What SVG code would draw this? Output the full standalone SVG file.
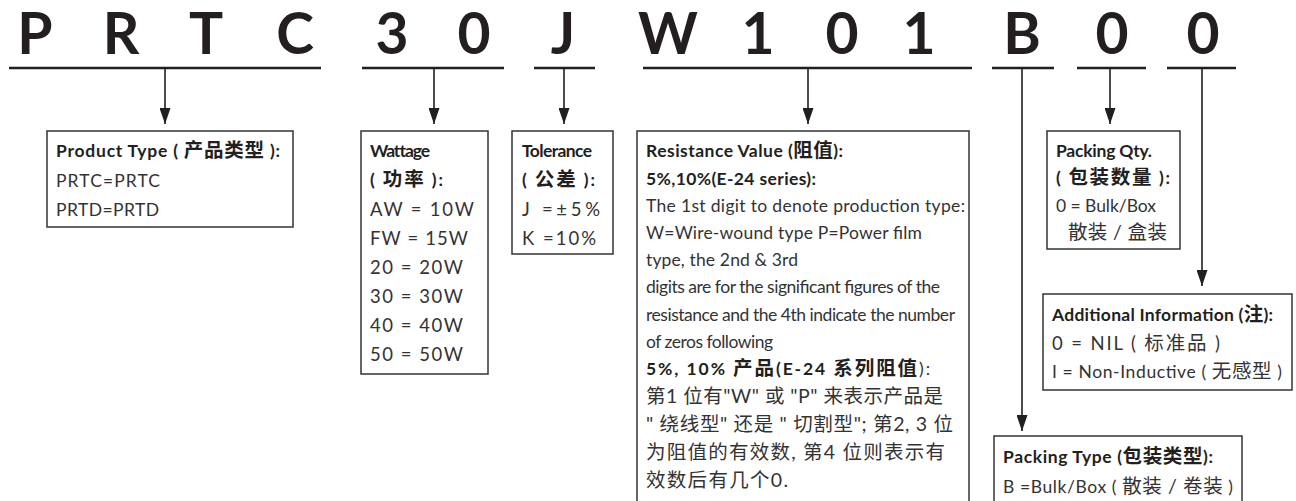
<svg xmlns="http://www.w3.org/2000/svg" width="1296" height="501" viewBox="0 0 1296 501">
<style>
.code{font-family:Lato,"Noto Sans CJK SC",sans-serif;font-weight:700;font-size:57px;fill:#231f20;text-anchor:middle}
.t{font-family:Lato,"Noto Sans CJK SC",sans-serif;font-size:17.5px;fill:#333}
.w{font-size:18.5px}
.b{font-weight:700;fill:#231f20}
.c{font-size:19.5px}
.box{fill:#fff;stroke:#333;stroke-width:1.5}
.ul{stroke:#231f20;stroke-width:2.5;fill:none}
.ln{stroke:#231f20;stroke-width:1.6;fill:none}
</style>
<defs>
<marker id="ah" viewBox="0 -5.5 16 11" refX="16" refY="0" markerWidth="16" markerHeight="11" markerUnits="userSpaceOnUse" orient="auto">
<path d="M0,-5.5 L16,0 L0,5.5 z" fill="#231f20"/>
</marker>
</defs>
<rect width="1296" height="501" fill="#fff"/>
<g id="code">
<text class="code" x="35" y="54">P</text>
<text class="code" x="121" y="54">R</text>
<text class="code" x="206" y="54">T</text>
<text class="code" x="295" y="54">C</text>
<text class="code" x="392" y="54">3</text>
<text class="code" x="474" y="54">0</text>
<text class="code" x="563" y="54">J</text>
<text class="code" x="668" y="54">W</text>
<text class="code" x="758" y="54">1</text>
<text class="code" x="842" y="54">0</text>
<text class="code" x="919" y="54">1</text>
<text class="code" x="1022" y="54">B</text>
<text class="code" x="1112" y="54">0</text>
<text class="code" x="1203" y="54">0</text>
</g>
<g id="connectors">
<path class="ul" d="M9,68H321 M362,68H504 M534,68H595 M643,68H972 M992,68H1054 M1077,68H1146 M1167,68H1236"/>
<path class="ln" d="M165,68V124" marker-end="url(#ah)"/>
<path class="ln" d="M434,68V124" marker-end="url(#ah)"/>
<path class="ln" d="M564,68V124" marker-end="url(#ah)"/>
<path class="ln" d="M808,68V124" marker-end="url(#ah)"/>
<path class="ln" d="M1110,68V124" marker-end="url(#ah)"/>
<path class="ln" d="M1022,68V431" marker-end="url(#ah)"/>
<path class="ln" d="M1202,68V286" marker-end="url(#ah)"/>
</g>
<g id="product">
<rect class="box" x="47" y="131" width="246" height="96"/>
<text class="t b" x="56" y="157" textLength="224" lengthAdjust="spacing">Product Type ( <tspan class="c">产品类型</tspan> ):</text>
<text class="t" x="56" y="187" textLength="104" lengthAdjust="spacing">PRTC=PRTC</text>
<text class="t" x="56" y="216" textLength="103" lengthAdjust="spacing">PRTD=PRTD</text>
</g>
<g id="wattage">
<rect class="box" x="361" y="131" width="127" height="243"/>
<text class="t b" x="370" y="157" textLength="60" lengthAdjust="spacing">Wattage</text>
<text class="t b" x="370" y="186" textLength="73" lengthAdjust="spacing">( <tspan class="c">功率</tspan> ):</text>
<text class="t w" x="370" y="216" textLength="104" lengthAdjust="spacing">AW = 10W</text>
<text class="t w" x="370" y="245" textLength="98" lengthAdjust="spacing">FW = 15W</text>
<text class="t w" x="370" y="274" textLength="93" lengthAdjust="spacing">20 = 20W</text>
<text class="t w" x="370" y="303" textLength="93" lengthAdjust="spacing">30 = 30W</text>
<text class="t w" x="370" y="332" textLength="93" lengthAdjust="spacing">40 = 40W</text>
<text class="t w" x="370" y="361" textLength="93" lengthAdjust="spacing">50 = 50W</text>
</g>
<g id="tolerance">
<rect class="box" x="512" y="131" width="101" height="123"/>
<text class="t b" x="522" y="157" textLength="70" lengthAdjust="spacing">Tolerance</text>
<text class="t b" x="522" y="186" textLength="73" lengthAdjust="spacing">( <tspan class="c">公差</tspan> ):</text>
<text class="t w" x="522" y="216" textLength="78" lengthAdjust="spacing">J =±5%</text>
<text class="t w" x="522" y="245" textLength="74" lengthAdjust="spacing">K =10%</text>
</g>
<g id="resistance">
<rect class="box" x="637" y="131" width="332" height="375"/>
<text class="t b" x="646" y="157" textLength="197" lengthAdjust="spacing">Resistance Value (<tspan class="c">阻值</tspan>):</text>
<text class="t b" x="646" y="185" textLength="170" lengthAdjust="spacing">5%,10%(E-24 series):</text>
<text class="t" x="646" y="212" textLength="319" lengthAdjust="spacing">The 1st digit to denote production type:</text>
<text class="t" x="646" y="239" textLength="276" lengthAdjust="spacing">W=Wire-wound type P=Power film</text>
<text class="t" x="646" y="266" textLength="152" lengthAdjust="spacing">type, the 2nd &amp; 3rd</text>
<text class="t" x="646" y="293" textLength="294" lengthAdjust="spacing">digits are for the significant figures of the</text>
<text class="t" x="646" y="321" textLength="309" lengthAdjust="spacing">resistance and the 4th indicate the number</text>
<text class="t" x="646" y="348" textLength="127" lengthAdjust="spacing">of zeros following</text>
<text class="t" x="646" y="375" textLength="284" lengthAdjust="spacing"><tspan class="b">5%, 10% <tspan class="c">产品</tspan>(E-24 <tspan class="c">系列阻值</tspan></tspan>):</text>
<text class="t c" x="646" y="403" textLength="297" lengthAdjust="spacing">第1 位有"W" 或 "P" 来表示产品是</text>
<text class="t c" x="646" y="431" textLength="307" lengthAdjust="spacing">" 绕线型" 还是 " 切割型"; 第2, 3 位</text>
<text class="t c" x="646" y="459" textLength="299" lengthAdjust="spacing">为阻值的有效数, 第4 位则表示有</text>
<text class="t c" x="646" y="487" textLength="142" lengthAdjust="spacing">效数后有几个0.</text>
</g>
<g id="packing-qty">
<rect class="box" x="1047" y="131" width="133" height="118"/>
<text class="t b" x="1056" y="157" textLength="96" lengthAdjust="spacing">Packing Qty.</text>
<text class="t b" x="1056" y="184" textLength="114" lengthAdjust="spacing">( <tspan class="c">包装数量</tspan> ):</text>
<text class="t" x="1056" y="212" textLength="100" lengthAdjust="spacing">0 = Bulk/Box</text>
<text class="t c" x="1068" y="239" textLength="99" lengthAdjust="spacing">散装 / 盒装</text>
</g>
<g id="additional">
<rect class="box" x="1043" y="294" width="249" height="96"/>
<text class="t b" x="1052" y="321" textLength="221" lengthAdjust="spacing">Additional Information (<tspan class="c">注</tspan>):</text>
<text class="t w" x="1052" y="350" textLength="168" lengthAdjust="spacing">0 = NIL ( <tspan class="c">标准品</tspan> )</text>
<text class="t" x="1052" y="378" textLength="230" lengthAdjust="spacing">I = Non-Inductive ( <tspan class="c">无感型</tspan> )</text>
</g>
<g id="packing-type">
<rect class="box" x="994" y="436" width="248" height="70"/>
<text class="t b" x="1003" y="463" textLength="210" lengthAdjust="spacing">Packing Type (<tspan class="c">包装类型</tspan>):</text>
<text class="t" x="1003" y="493" textLength="230" lengthAdjust="spacing">B =Bulk/Box ( <tspan class="c">散装 / 卷装</tspan> )</text>
</g>
</svg>
